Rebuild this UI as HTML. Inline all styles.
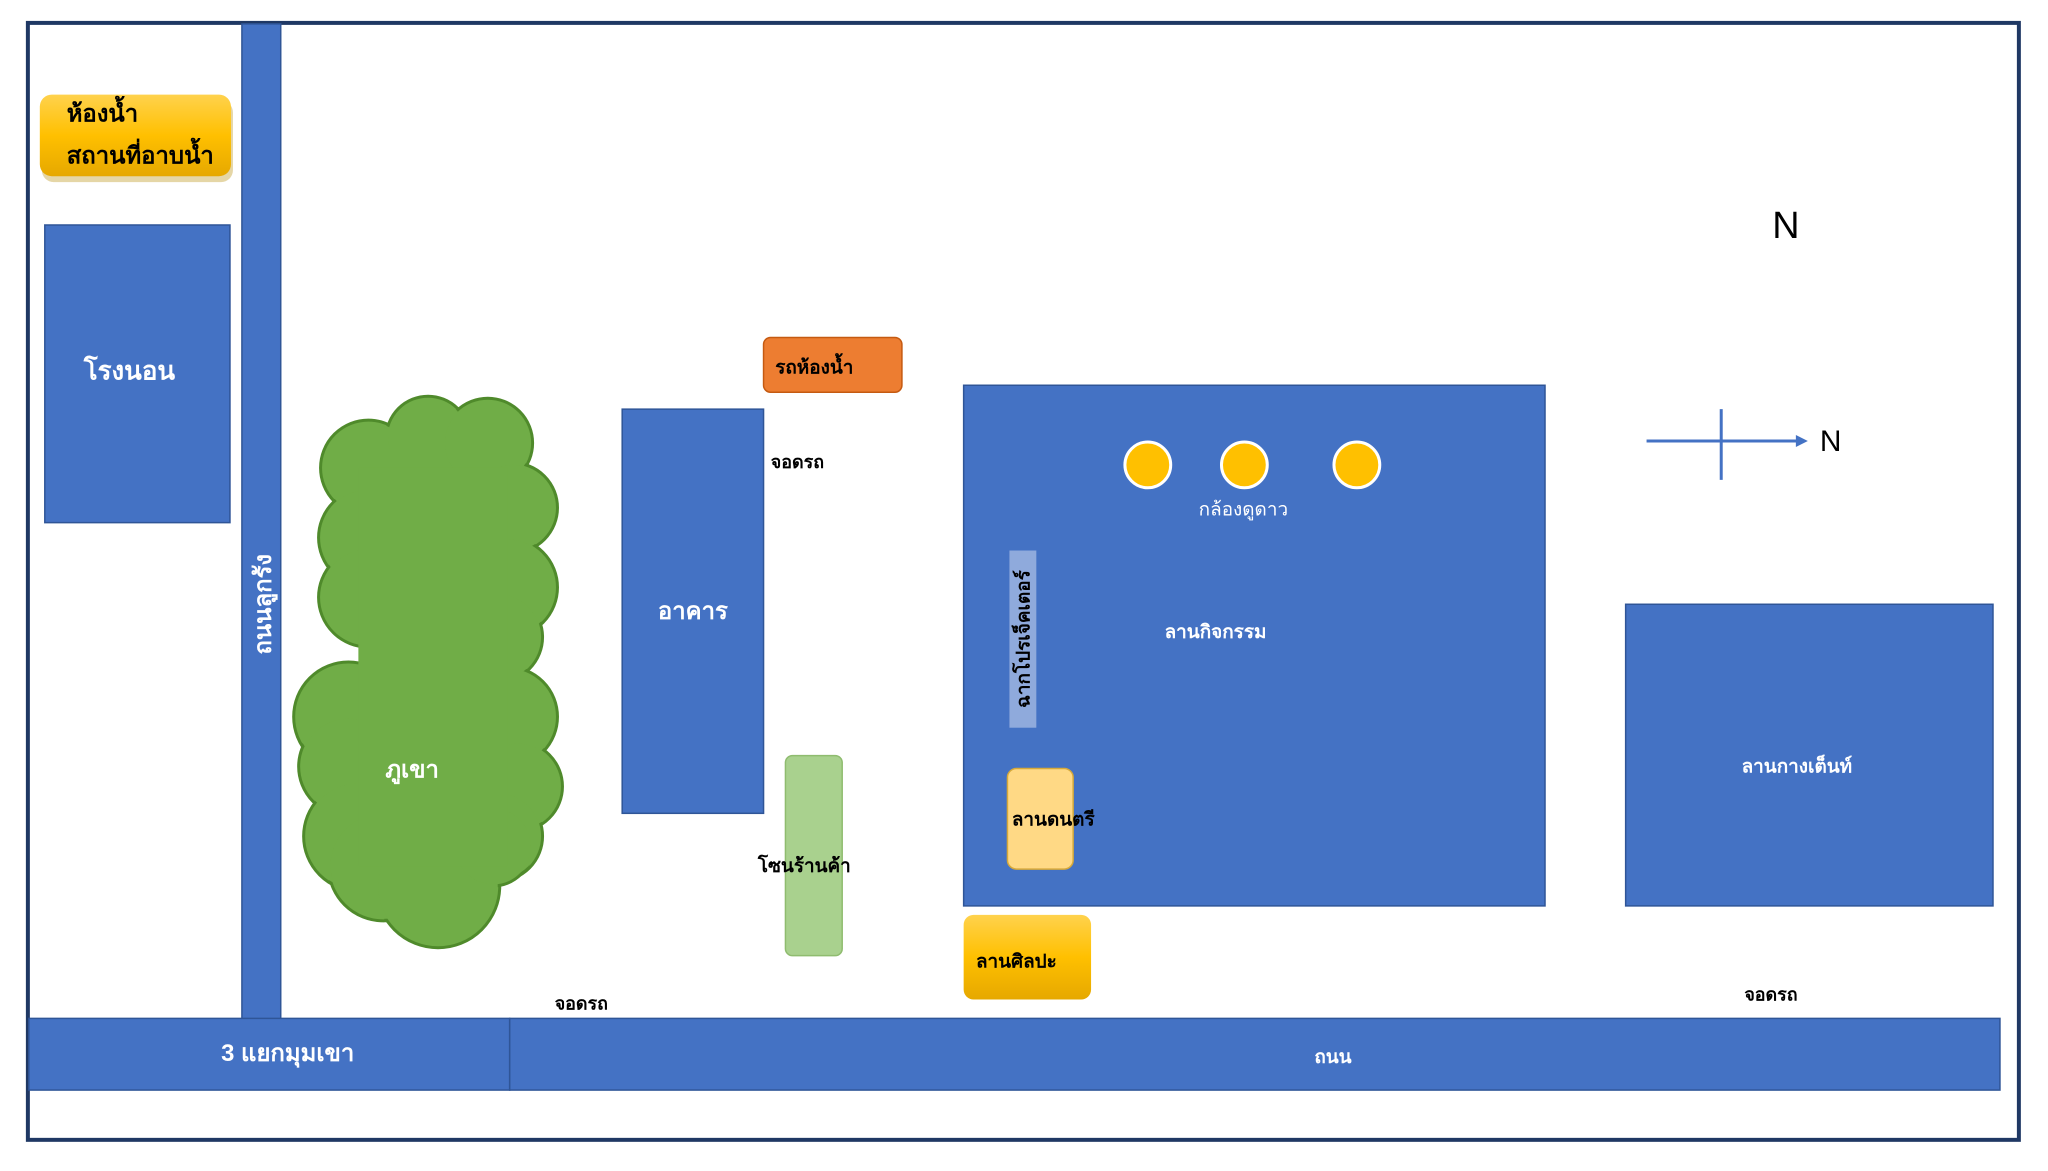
<!DOCTYPE html>
<html><head><meta charset="utf-8"><style>
html,body{margin:0;padding:0;background:#fff;}
svg{display:block;}
text{font-family:"Liberation Sans","Noto Sans CJK SC","WenQuanYi Zen Hei",sans-serif;font-weight:bold;}
</style></head><body>
<svg width="2048" height="1171" viewBox="0 0 2048 1171" xmlns="http://www.w3.org/2000/svg">
<defs>
<linearGradient id="yg" x1="0" y1="0" x2="0" y2="1">
<stop offset="0" stop-color="#ffd24d"/><stop offset="0.5" stop-color="#ffc000"/><stop offset="1" stop-color="#e6a800"/>
</linearGradient>
</defs>
<rect x="0" y="0" width="2048" height="1171" fill="#fff"/>
<g transform="scale(0.9955)">
<rect x="28" y="23" width="2000" height="1122" fill="#fff" stroke="#1f3864" stroke-width="4"/>

<rect x="40" y="97" width="192" height="82" rx="12" fill="#b58a00" opacity="0.35" transform="translate(2,4)"/>
<rect x="40" y="95" width="192" height="82" rx="12" fill="url(#yg)"/>
<text x="67" y="122" font-size="24" fill="#000">ห้องน้ำ</text>
<text x="67" y="164" font-size="24" fill="#000">สถานที่อาบน้ำ</text>

<rect x="45" y="226" width="186" height="299" fill="#4472c4" stroke="#2f5597" stroke-width="1.5"/>
<text x="130" y="381" font-size="26" fill="#fff" text-anchor="middle">โรงนอน</text>

<rect x="243" y="24" width="39" height="1000" fill="#4472c4" stroke="#2f5597" stroke-width="1.5"/>
<text transform="translate(272,607) rotate(-90)" font-size="24" fill="#fff" text-anchor="middle">ถนนลูกรัง</text>

<rect x="29" y="1023" width="483" height="72" fill="#4472c4" stroke="#2f5597" stroke-width="1.5"/>
<text x="289" y="1066" font-size="24" fill="#fff" text-anchor="middle">3 แยกมุมเขา</text>
<rect x="512" y="1023" width="1497" height="72" fill="#4472c4" stroke="#2f5597" stroke-width="1.5"/>
<text x="1339" y="1068" font-size="19" fill="#fff" text-anchor="middle">ถนน</text>

<g stroke="#4f8a2b" stroke-width="3" fill="#70ad47">
<circle cx="370" cy="470" r="48"/><circle cx="430" cy="440" r="42"/><circle cx="490" cy="445" r="45"/>
<circle cx="515" cy="510" r="45"/><circle cx="510" cy="590" r="50"/><circle cx="370" cy="540" r="50"/>
<circle cx="370" cy="600" r="50"/><circle cx="440" cy="620" r="55"/><circle cx="500" cy="640" r="45"/>
<circle cx="350" cy="720" r="55"/><circle cx="440" cy="700" r="60"/><circle cx="510" cy="720" r="50"/>
<circle cx="350" cy="770" r="50"/><circle cx="520" cy="790" r="45"/><circle cx="360" cy="840" r="55"/>
<circle cx="440" cy="800" r="70"/><circle cx="500" cy="840" r="45"/><circle cx="385" cy="870" r="55"/>
<circle cx="440" cy="890" r="62"/><circle cx="495" cy="850" r="40"/>
</g>
<g fill="#70ad47">
<circle cx="370" cy="470" r="46"/><circle cx="430" cy="440" r="40"/><circle cx="490" cy="445" r="43"/>
<circle cx="515" cy="510" r="43"/><circle cx="510" cy="590" r="48"/><circle cx="370" cy="540" r="48"/>
<circle cx="370" cy="600" r="48"/><circle cx="440" cy="620" r="53"/><circle cx="500" cy="640" r="43"/>
<circle cx="350" cy="720" r="53"/><circle cx="440" cy="700" r="58"/><circle cx="510" cy="720" r="48"/>
<circle cx="350" cy="770" r="48"/><circle cx="520" cy="790" r="43"/><circle cx="360" cy="840" r="53"/>
<circle cx="440" cy="800" r="68"/><circle cx="500" cy="840" r="43"/><circle cx="385" cy="870" r="53"/>
<circle cx="440" cy="890" r="60"/><circle cx="495" cy="850" r="38"/>
<rect x="360" y="470" width="150" height="400"/>
</g>
<text x="414" y="781" font-size="24" fill="#fff" text-anchor="middle">ภูเขา</text>

<rect x="625" y="411" width="142" height="406" fill="#4472c4" stroke="#2f5597" stroke-width="1.5"/>
<text x="696" y="622" font-size="24" fill="#fff" text-anchor="middle">อาคาร</text>

<rect x="767" y="339" width="139" height="55" rx="7" fill="#ed7d31" stroke="#c55a11" stroke-width="1.5"/>
<text x="818" y="375" font-size="19" fill="#000" text-anchor="middle">รถห้องน้ำ</text>
<text x="801" y="470" font-size="18" fill="#000" text-anchor="middle">จอดรถ</text>

<rect x="789" y="759" width="57" height="201" rx="7" fill="#a9d18e" stroke="#8fbc6f" stroke-width="1.5"/>
<text x="808" y="876" font-size="19" fill="#000" text-anchor="middle">โซนร้านค้า</text>

<rect x="968" y="387" width="584" height="523" fill="#4472c4" stroke="#2f5597" stroke-width="1.5"/>
<circle cx="1153" cy="467" r="23" fill="#ffc000" stroke="#fff" stroke-width="3"/>
<circle cx="1250" cy="467" r="23" fill="#ffc000" stroke="#fff" stroke-width="3"/>
<circle cx="1363" cy="467" r="23" fill="#ffc000" stroke="#fff" stroke-width="3"/>
<text x="1249" y="518" font-size="19" fill="#fff" text-anchor="middle" style="font-weight:normal">กล้องดูดาว</text>
<rect x="1014" y="553" width="27" height="178" fill="#8faadc"/>
<text transform="translate(1034,642) rotate(-90)" font-size="19" fill="#000" text-anchor="middle">ฉากโปรเจ็คเตอร์</text>
<text x="1221" y="641" font-size="19" fill="#fff" text-anchor="middle">ลานกิจกรรม</text>
<rect x="1012" y="772" width="66" height="101" rx="9" fill="#ffd985" stroke="#d6a93a" stroke-width="1.5"/>
<text x="1058" y="829" font-size="19" fill="#000" text-anchor="middle">ลานดนตรี</text>

<rect x="968" y="919" width="128" height="85" rx="10" fill="url(#yg)"/>
<text x="1021" y="972" font-size="19" fill="#000" text-anchor="middle">ลานศิลปะ</text>

<rect x="1633" y="607" width="369" height="303" fill="#4472c4" stroke="#2f5597" stroke-width="1.5"/>
<text x="1805" y="776" font-size="19" fill="#fff" text-anchor="middle">ลานกางเต็นท์</text>

<text x="584" y="1014" font-size="18" fill="#000" text-anchor="middle">จอดรถ</text>
<text x="1779" y="1005" font-size="18" fill="#000" text-anchor="middle">จอดรถ</text>

<text x="1794" y="239" font-size="38" fill="#000" text-anchor="middle" style="font-weight:normal">N</text>
<line x1="1654" y1="443" x2="1808" y2="443" stroke="#4472c4" stroke-width="3"/>
<polygon points="1816,443 1804,437 1804,449" fill="#4472c4"/>
<line x1="1729" y1="411" x2="1729" y2="482" stroke="#4472c4" stroke-width="3"/>
<text x="1839" y="453" font-size="30" fill="#000" text-anchor="middle" style="font-weight:normal">N</text>
</g>
</svg>
</body></html>
